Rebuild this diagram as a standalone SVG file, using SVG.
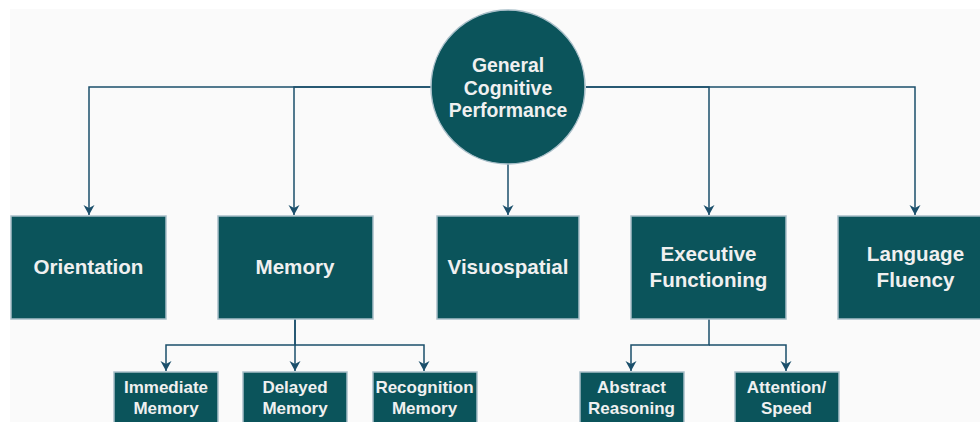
<svg xmlns="http://www.w3.org/2000/svg" width="980" height="422" viewBox="0 0 980 422">
<style>
.n{fill:#0b545b;stroke:#a9bfc9;stroke-width:1.5}
.t{fill:#f0f0f0;font-family:"Liberation Sans",Arial,sans-serif;font-weight:bold;text-anchor:middle}
.b{font-size:20.6px}
.c{font-size:19.4px}
.s{font-size:17px}
.e{fill:none;stroke:#1b4f6b;stroke-width:1.5;marker-end:url(#a)}
</style>
<defs>
<marker id="a" markerUnits="userSpaceOnUse" markerWidth="12" markerHeight="12" viewBox="0 0 12 12" refX="11" refY="6" orient="auto">
<path d="M1,0.5 L11,6 L1,11.5 L4,6 Z" fill="#1b4f6b"/>
</marker>
</defs>
<rect x="0" y="0" width="980" height="422" fill="#ffffff"/>
<rect x="10" y="9" width="970" height="413" fill="#fafafa"/>
<g id="connectors">
<path class="e" d="M431,87 H89 V215"/>
<path class="e" d="M431,87 H294 V215"/>
<path class="e" d="M508,164 V215"/>
<path class="e" d="M586,87 H709 V215"/>
<path class="e" d="M586,87 H915 V215"/>
<path class="e" d="M295,319 V345 H166 V371"/>
<path class="e" d="M295,319 V371"/>
<path class="e" d="M295,345 H424 V371"/>
<path class="e" d="M709,319 V345 H631 V371"/>
<path class="e" d="M709,345 H786 V371"/>
</g>
<g id="general">
<circle class="n" cx="508" cy="87" r="77"/>
<text class="t c" x="508" y="71.5">General</text>
<text class="t c" x="508" y="94.5">Cognitive</text>
<text class="t c" x="508" y="117">Performance</text>
</g>
<g id="orientation">
<rect class="n" x="11" y="216" width="155" height="103"/>
<text class="t b" x="88.5" y="274">Orientation</text>
</g>
<g id="memory">
<rect class="n" x="218" y="216" width="155" height="103"/>
<text class="t b" x="295" y="274">Memory</text>
</g>
<g id="visuospatial">
<rect class="n" x="437" y="216" width="142" height="103"/>
<text class="t b" x="508" y="274">Visuospatial</text>
</g>
<g id="executive">
<rect class="n" x="631" y="216" width="155" height="103"/>
<text class="t b" x="708.5" y="261">Executive</text>
<text class="t b" x="708.5" y="287">Functioning</text>
</g>
<g id="language">
<rect class="n" x="838" y="216" width="155" height="103"/>
<text class="t b" x="915.5" y="261">Language</text>
<text class="t b" x="915.5" y="287">Fluency</text>
</g>
<g id="immediate">
<rect class="n" x="114" y="372" width="104" height="60"/>
<text class="t s" x="166" y="392.5">Immediate</text>
<text class="t s" x="166" y="414">Memory</text>
</g>
<g id="delayed">
<rect class="n" x="243" y="372" width="104" height="60"/>
<text class="t s" x="295" y="392.5">Delayed</text>
<text class="t s" x="295" y="414">Memory</text>
</g>
<g id="recognition">
<rect class="n" x="373" y="372" width="104" height="60"/>
<text class="t s" x="424.5" y="392.5">Recognition</text>
<text class="t s" x="424.5" y="414">Memory</text>
</g>
<g id="abstract">
<rect class="n" x="580" y="372" width="104" height="60"/>
<text class="t s" x="631.5" y="392.5">Abstract</text>
<text class="t s" x="631.5" y="414">Reasoning</text>
</g>
<g id="attention">
<rect class="n" x="735" y="372" width="104" height="60"/>
<text class="t s" x="786.5" y="392.5">Attention/</text>
<text class="t s" x="786.5" y="414">Speed</text>
</g>
</svg>
